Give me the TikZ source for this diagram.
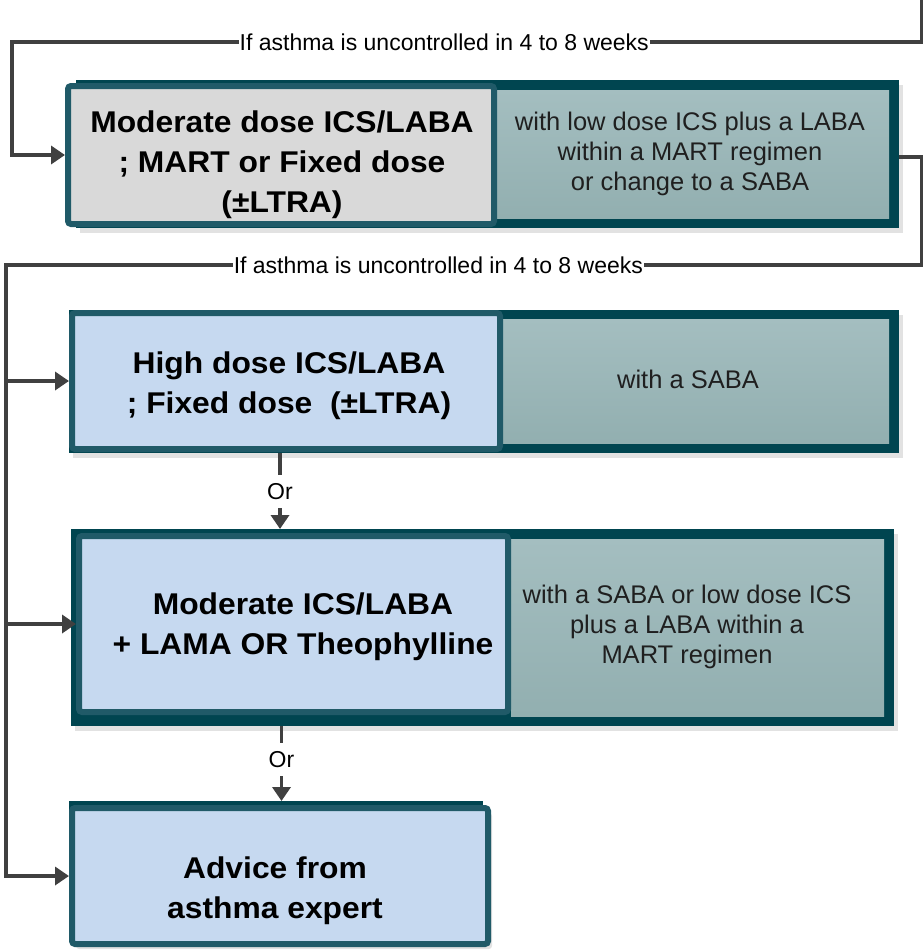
\documentclass[tikz,border=0pt]{standalone}
\usepackage{fontspec}
\setmainfont{Liberation Sans}
\newfontfamily\boxfont{Liberation Sans}[FakeStretch=1.06]
\usetikzlibrary{arrows.meta,shadows}

\definecolor{frameteal}{HTML}{004550}
\definecolor{edgeteal}{HTML}{205A68}
\definecolor{greyfill}{HTML}{D9D9D9}
\definecolor{bluefill}{HTML}{C6D9F0}
\definecolor{sidetop}{HTML}{A4BEC0}
\definecolor{sidebot}{HTML}{92AFB0}
\definecolor{wire}{HTML}{404040}
\definecolor{shadowgrey}{HTML}{E2E2E2}

\begin{document}
\begin{tikzpicture}[x=1pt,y=-1pt,
  frame/.style={fill=frameteal, inner sep=0, outer sep=0,
    drop shadow={shadow xshift=4pt,shadow yshift=-5pt,fill=shadowgrey,opacity=1}},
  side/.style={top color=sidetop, bottom color=sidebot, inner sep=0, outer sep=0},
  mainbox/.style={draw=edgeteal, line width=6pt, rounded corners=3pt,
    inner sep=0, outer sep=3pt},
  boldtext/.style={align=center, inner sep=0,
    font=\boxfont\bfseries\fontsize{30}{40}\selectfont},
  sidetext/.style={align=center, inner sep=0, text=black!88,
    font=\fontsize{25.5}{30}\selectfont},
  conn/.style={draw=wire, line width=3.5pt},
  tip/.style={-{Triangle[length=14pt,width=18pt]}},
  lbl/.style={fill=white, inner sep=1pt, font=\fontsize{23}{26}\selectfont},
  orlbl/.style={lbl, minimum height=33pt}]

\useasboundingbox (0,0) rectangle (923,951);

% step 1: moderate dose
\node[frame, minimum width=823pt, minimum height=148pt] (b1frame) at (487.5,154) {};
\node[side, minimum width=392pt, minimum height=128pt] (b1side) at (693,154) {};
\node[mainbox, fill=greyfill, minimum width=426pt, minimum height=138pt] (b1main) at (281,155) {};
\node[boldtext] (b1text) at (282,165) {Moderate dose ICS/LABA\\; MART or Fixed dose\\(±LTRA)};
\node[sidetext] (b1note) at (690,154) {with low dose ICS plus a LABA\\within a MART regimen\\or change to a SABA};

% step 2: high dose
\node[frame, minimum width=830pt, minimum height=143pt] (b2frame) at (484,381.5) {};
\node[side, minimum width=386pt, minimum height=124pt] (b2side) at (696,381) {};
\node[mainbox, fill=bluefill, minimum width=428pt, minimum height=136pt] (b2main) at (286,381) {};
\node[boldtext] (b2text) at (289,386) {High dose ICS/LABA\\; Fixed dose\ \ (±LTRA)};
\node[sidetext] (b2note) at (688,379) {with a SABA};

% step 3: add-on therapy
\node[frame, minimum width=823pt, minimum height=197pt] (b3frame) at (482.5,627.5) {};
\node[side, minimum width=373pt, minimum height=177pt] (b3side) at (697.5,627.5) {};
\node[mainbox, fill=bluefill, minimum width=429pt, minimum height=176pt] (b3main) at (293.5,624) {};
\node[boldtext] (b3text) at (303,627) {Moderate ICS/LABA\\+ LAMA OR Theophylline};
\node[sidetext] (b3note) at (687,627) {with a SABA or low dose ICS\\plus a LABA within a\\MART regimen};

% step 4: specialist referral
\node[frame, minimum width=414pt, minimum height=139pt] (b4frame) at (276,870.5) {};
\node[mainbox, fill=bluefill, minimum width=416pt, minimum height=136pt,
  drop shadow={shadow xshift=4pt,shadow yshift=-5pt,fill=shadowgrey,opacity=1}] (b4main) at (280,876) {};
\node[boldtext] (b4text) at (275,891) {Advice from\\asthma expert};

% loop-back connectors
\coordinate (t0) at (922,0);
\coordinate (t1) at (922,42);
\coordinate (t2) at (12,42);
\draw[conn, tip] (t0) -- (t1)
  -- node[lbl, pos=0.525] {If asthma is uncontrolled in 4 to 8 weeks} (t2)
  |- (b1main.west);

\coordinate (r1) at (922,265);
\coordinate (l0) at (6,265);
\draw[conn, tip] ([yshift=-3pt]b1frame.east) -| (r1)
  -- node[lbl, pos=0.528] {If asthma is uncontrolled in 4 to 8 weeks} (l0)
  |- (b4main.west);
\draw[conn, tip] (l0 |- b2main.west) -- (b2main.west);
\draw[conn, tip] (l0 |- b3main.west) -- (b3main.west);

% alternatives within a step
\draw[conn, tip] ([xshift=-6pt]b2frame.south -| b2main.south)
  -- node[orlbl, pos=0.51] {Or} ([xshift=-6pt]b3frame.north -| b2main.south);
\draw[conn, tip] ([xshift=-12pt]b3frame.south -| b3main.south)
  -- node[orlbl, pos=0.45] {Or} ([xshift=-12pt]b4frame.north -| b3main.south);

\end{tikzpicture}
\end{document}
